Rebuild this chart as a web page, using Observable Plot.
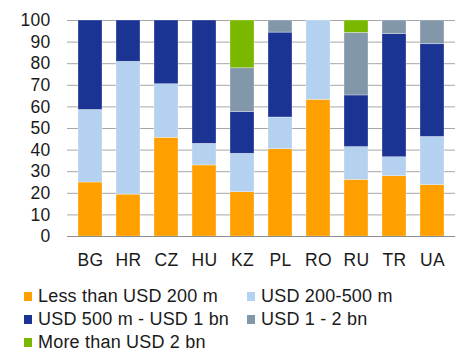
<!DOCTYPE html>
<html>
<head>
<meta charset="utf-8">
<script src="https://cdn.jsdelivr.net/npm/d3@7"></script>
<script src="https://cdn.jsdelivr.net/npm/@observablehq/plot@0.6"></script>
<style>
  html, body { margin: 0; padding: 0; background: #fff; }
  #chart { width: 461px; height: 354px; position: relative; overflow: hidden;
           font-family: "Liberation Sans", Arial, sans-serif; color: #1a1a1a; }
  #chart svg { display: block; }
  .legend { position: absolute; left: 24px; top: 285px; display: grid;
            grid-template-columns: 223px auto; grid-auto-rows: 23px;
            font-size: 18px; letter-spacing: 0.2px; }
  .item { display: flex; align-items: center; white-space: nowrap; }
  .swatch { width: 8px; height: 9px; margin-right: 6px; flex: none; }
</style>
</head>
<body>
<div id="chart"></div>
<script>
// Countries along the x axis
const countries = ["BG", "HR", "CZ", "HU", "KZ", "PL", "RO", "RU", "TR", "UA"];

// Size bands, bottom to top of each stack
const series = [
  "Less than USD 200 m",
  "USD 200-500 m",
  "USD 500 m - USD 1 bn",
  "USD 1 - 2 bn",
  "More than USD 2 bn"
];
const colors = ["#ffa000", "#b4d2f0", "#1b3393", "#8397aa", "#7ab800"];

// Share (%) of each band per country
const lessThan200m = [25.0, 19.4, 45.7, 32.9, 20.5, 40.4, 63.3, 26.2, 27.9, 23.8];
const usd200to500m = [33.6, 61.5, 24.8, 10.0, 17.8, 14.7, 36.7, 15.2, 8.8, 22.3];
const usd500mTo1bn = [41.4, 19.1, 29.5, 57.1, 19.3, 39.3, 0, 23.9, 57.0, 42.9];
const usd1to2bn    = [0, 0, 0, 0, 20.3, 5.6, 0, 29.0, 6.3, 11.0];
const moreThan2bn  = [0, 0, 0, 0, 22.1, 0, 0, 5.7, 0, 0];

const yTicks = [0, 10, 20, 30, 40, 50, 60, 70, 80, 90, 100];

const columns = [lessThan200m, usd200to500m, usd500mTo1bn, usd1to2bn, moreThan2bn];
const rows = [];
countries.forEach((c, i) => {
  columns.forEach((col, j) => {
    rows.push({country: c, series: series[j], value: col[i]});
  });
});

const plot = Plot.plot({
  width: 461,
  height: 282,
  marginTop: 20,
  marginBottom: 46,
  marginLeft: 67,
  marginRight: 6,
  style: {fontFamily: "Liberation Sans, Arial, sans-serif", fontSize: "17.5px", color: "#1a1a1a", letterSpacing: "0.3px"},
  x: {domain: countries, paddingInner: 0.37, paddingOuter: 0.18, label: null},
  y: {domain: [0, 100], label: null},
  color: {domain: series, range: colors},
  marks: [
    Plot.gridY(yTicks, {stroke: "#a6a6a6", strokeOpacity: 1, strokeWidth: 1}),
    Plot.barY(rows, {x: "country", y: "value", fill: "series",
                     stroke: "#fff", strokeOpacity: 0.5, strokeWidth: 0.6}),
    Plot.ruleY([0], {stroke: "#8c8c8c", strokeWidth: 1}),
    Plot.axisY({ticks: yTicks, tickSize: 0, tickPadding: 17, fill: "#1a1a1a", fontSize: 17.5}),
    Plot.axisX({tickSize: 0, tickPadding: 17, fill: "#1a1a1a", fontSize: 17.5})
  ]
});

const root = document.getElementById("chart");
root.appendChild(plot);

// Legend below the plot, two columns
const legend = document.createElement("div");
legend.className = "legend";
series.forEach((s, j) => {
  const item = document.createElement("div");
  item.className = "item";
  const sw = document.createElement("span");
  sw.className = "swatch";
  sw.style.background = colors[j];
  const label = document.createElement("span");
  label.textContent = s;
  item.append(sw, label);
  legend.appendChild(item);
});
root.appendChild(legend);
</script>
</body>
</html>
